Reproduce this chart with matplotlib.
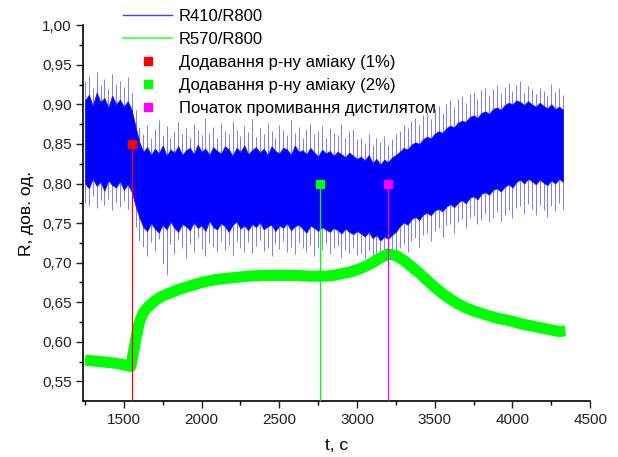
import matplotlib
matplotlib.use("Agg")
import matplotlib.pyplot as plt
import numpy as np
from matplotlib.lines import Line2D
from matplotlib.ticker import MultipleLocator, FuncFormatter

plt.rcParams['font.family'] = ['Liberation Sans', 'DejaVu Sans']

# R410/R800, read every 25 s from 1250 to 4325 s (values in thousandths)
t_blue = list(range(1250, 4326, 25))
# dark core of the noisy band
blue_hi = [905, 912, 898, 915, 903, 908, 896, 911, 900, 906, 897, 904, 893,
           872, 852,
           840, 846, 836, 844, 838, 848, 835, 843, 839, 847, 836, 842, 845, 837, 849, 840,
           844, 836, 846, 841, 838, 847, 843, 835, 845, 840, 848, 837, 842, 846, 839, 844,
           836, 847, 841, 838, 845, 843, 836, 848, 840, 842, 837, 845, 839, 834, 843, 838,
           841, 835, 840, 837, 833, 839, 835, 831,
           834, 829, 836, 826, 831, 824, 830, 827, 833, 836,
           840, 845, 843, 849, 852, 850, 856, 859, 857, 863, 866, 864, 870, 873, 871, 877,
           879, 878, 884, 886, 883, 889, 891, 888, 894, 896, 893, 899, 902, 900, 905, 903,
           899, 904, 900, 897, 902, 898, 895, 900, 894, 897, 893]
blue_lo = [800, 794, 806, 797, 802, 791, 804, 798, 795, 803, 792, 799, 790,
           772, 757,
           745, 740, 750, 743, 738, 748, 742, 752, 744, 739, 749, 746, 741, 751, 744, 747,
           740, 753, 745, 742, 750, 746, 739, 748, 752, 743, 747, 741, 749, 745, 751, 742,
           746, 748, 740, 747, 744, 750, 741, 746, 748, 743, 738, 747, 744, 740, 745, 742,
           739, 744, 741, 737, 743, 739, 736, 740,
           737, 733, 739, 731, 735, 728, 733, 730, 735, 739,
           746, 751, 748, 755, 758, 754, 761, 763, 760, 766, 768, 765, 771, 774, 770, 776,
           779, 775, 782, 784, 780, 787, 789, 786, 792, 794, 790, 796, 799, 795, 802, 805,
           800, 806, 803, 799, 805, 801, 798, 804, 800, 806, 802]
# light spikes around the core
spike_hi = [928, 936, 921, 941, 925, 932, 919, 938, 926, 930, 922, 934, 915,
            893, 871,
            862, 874, 858, 869, 880, 861, 872, 857, 866, 878, 863, 870, 859, 875, 868, 861,
            883, 864, 871, 858, 876, 866, 862, 879, 867, 860, 873, 865, 881, 859, 870, 863,
            877, 866, 858, 874, 868, 861, 880, 864, 871, 857, 869, 876, 862, 866, 873, 858,
            870, 864, 861, 875, 857, 866, 869, 856,
            858, 851, 863, 849, 857, 853, 860, 848, 856, 862,
            866, 874, 870, 879, 883, 875, 886, 890, 882, 894, 898, 889, 901, 905, 896, 907,
            911, 902, 913, 916, 907, 918, 921, 911, 919, 924, 914, 922, 927, 917, 925, 929,
            916, 923, 919, 913, 921, 917, 911, 926, 915, 920, 912]
spike_lo = [776, 771, 784, 769, 779, 773, 781, 766, 775, 770, 778, 768, 772,
            745, 728,
            720, 708, 726, 715, 730, 698, 685, 724, 711, 729, 719, 706, 723, 714, 731, 717,
            709, 725, 720, 713, 727, 716, 722, 710, 728, 718, 714, 726, 712, 721, 729, 715,
            719, 708, 724, 717, 727, 713, 720, 711, 725, 718, 714, 722, 709, 719, 716, 724,
            711, 718, 721, 707, 716, 712, 719, 710,
            712, 706, 716, 703, 710, 700, 707, 711, 704, 713,
            718, 724, 713, 728, 731, 720, 735, 738, 727, 740, 744, 733, 747, 749, 738, 752,
            755, 744, 756, 759, 749, 754, 762, 751, 757, 764, 753, 760, 767, 756, 769, 772,
            762, 774, 768, 760, 773, 766, 758, 771, 765, 775, 768]

# R570/R800
t_green = [1250, 1300, 1350, 1400, 1450, 1500, 1545, 1575, 1600, 1625, 1650, 1700,
           1750, 1800, 1850, 1900, 1950, 2000, 2050, 2100, 2150, 2200, 2250, 2300,
           2400, 2500, 2600, 2700, 2800, 2850, 2900, 2950, 3000, 3050, 3100, 3150,
           3200, 3250, 3300, 3350, 3400, 3450, 3500, 3550, 3600, 3650, 3700, 3750,
           3800, 3850, 3900, 3950, 4000, 4050, 4100, 4150, 4200, 4250, 4300, 4340]
green = [0.577, 0.576, 0.575, 0.574, 0.573, 0.571, 0.569, 0.601, 0.625, 0.637, 0.643, 0.652,
         0.658, 0.662, 0.666, 0.669, 0.672, 0.675, 0.677, 0.679, 0.680, 0.681, 0.682, 0.683,
         0.684, 0.684, 0.684, 0.683, 0.683, 0.684, 0.686, 0.688, 0.691, 0.695, 0.700, 0.706,
         0.711, 0.709, 0.703, 0.695, 0.687, 0.678, 0.669, 0.661, 0.654, 0.648, 0.643, 0.639,
         0.636, 0.633, 0.630, 0.628, 0.626, 0.623, 0.621, 0.619, 0.617, 0.615, 0.613, 0.614]

# events
ev_t = [1550, 2760, 3200]
ev_r = [0.85, 0.80, 0.80]
ev_col = ['#ff0000', '#00ff00', '#ff00ff']
ev_lab = ['Додавання р-ну аміаку (1%)', 'Додавання р-ну аміаку (2%)',
          'Початок промивання дистилятом']

b_hi = np.array(blue_hi) / 1000
b_lo = np.array(blue_lo) / 1000
s_hi = np.array(spike_hi) / 1000
s_lo = np.array(spike_lo) / 1000

fig = plt.figure(figsize=(6.18, 4.57), dpi=100)
ax = fig.add_axes([0.135, 0.123, 0.82, 0.822])

ax.vlines(t_blue, s_lo, s_hi, color='#7c7cff', lw=0.7, zorder=1)
ax.fill_between(t_blue, b_lo, b_hi, color='#0000ff', lw=0.6, edgecolor='#1a1aff', zorder=2)
ax.plot(t_green, green, color='#00ff00', lw=8, solid_capstyle='butt', zorder=3)

ymin = 0.5256
for t, r, c in zip(ev_t, ev_r, ev_col):
    ax.vlines(t, ymin, r, color=c, lw=0.9, zorder=4)
    ax.plot(t, r, 's', color=c, ms=6, mec=c, zorder=5)

ax.set_xticks(range(1500, 4501, 500))
ax.xaxis.set_minor_locator(MultipleLocator(250))
ax.yaxis.set_major_locator(MultipleLocator(0.05))
ax.yaxis.set_minor_locator(MultipleLocator(0.025))
ax.yaxis.set_major_formatter(FuncFormatter(lambda v, p: ('%.2f' % v).replace('.', ',')))
ax.set_xlim(1240, 4500)
ax.set_ylim(ymin, 1.0)
ax.spines['top'].set_visible(False)
ax.spines['right'].set_visible(False)
ax.tick_params(which='major', direction='out', length=5, width=1, labelsize=11, colors='#222222')
ax.tick_params(which='minor', direction='out', length=3, width=1)
for s in ax.spines.values():
    s.set_linewidth(1.2)

ax.set_xlabel('t, c', fontsize=12.5, labelpad=8)
ax.set_ylabel('R, дов. од.', fontsize=12.5, labelpad=6)

handles = [Line2D([], [], color='#4040ff', lw=1, label='R410/R800'),
           Line2D([], [], color='#60ff60', lw=1.5, label='R570/R800')]
for c, l in zip(ev_col, ev_lab):
    handles.append(Line2D([], [], ls='none', marker='s', color=c, ms=6, label=l))
ax.legend(handles=handles, loc='upper left', bbox_to_anchor=(0.065, 1.061), frameon=False,
          fontsize=12, handlelength=2.95, handletextpad=0.4, labelspacing=0.48,
          borderaxespad=0)

fig.savefig('out.png', dpi=100)
